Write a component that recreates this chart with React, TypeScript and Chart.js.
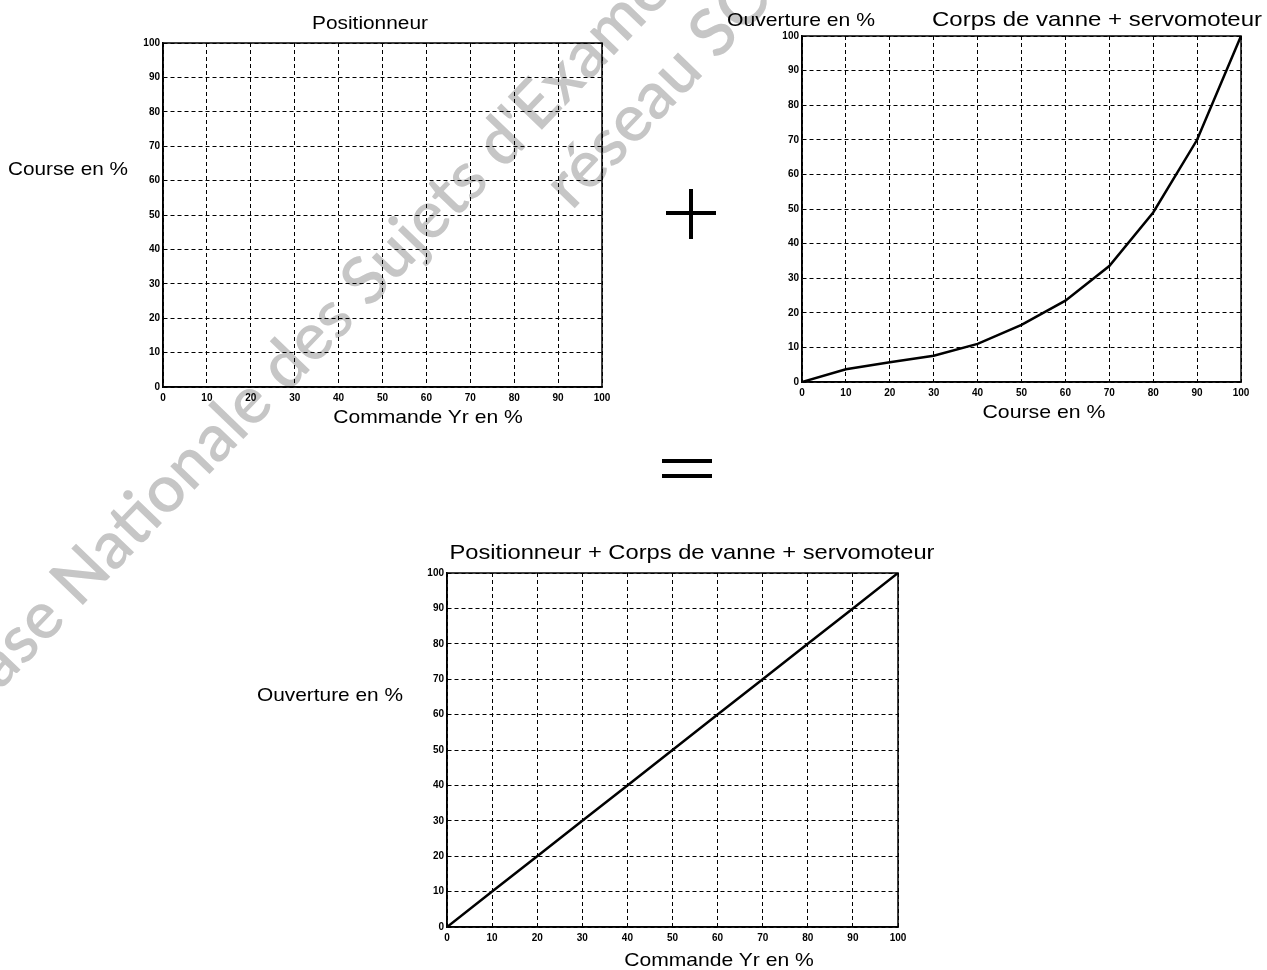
import React, { useEffect, useRef } from "react";
import { Chart, registerables } from "chart.js";

Chart.register(...registerables);

// ---- data ----
const axisTicks = [0, 10, 20, 30, 40, 50, 60, 70, 80, 90, 100];

// Positionneur: empty grid (to be filled in)
const positionneurCommande: number[] = [];
const positionneurCourse: number[] = [];

// Corps de vanne + servomoteur
const vanneCourse = [0, 10, 20, 30, 40, 50, 60, 70, 80, 90, 100];
const vanneOuverture = [0, 3.7, 5.7, 7.6, 11, 16.5, 23.5, 33.5, 49, 70, 100];

// Positionneur + Corps de vanne + servomoteur
const ensembleCommande = [0, 10, 20, 30, 40, 50, 60, 70, 80, 90, 100];
const ensembleOuverture = [0, 10, 20, 30, 40, 50, 60, 70, 80, 90, 100];

const FONT = '"Liberation Sans", Arial, sans-serif';

const framePlugin = {
  id: "frame",
  afterDatasetsDraw(chart: any) {
    const { ctx, chartArea } = chart;
    ctx.save();
    ctx.strokeStyle = "#000";
    ctx.lineWidth = 1.5;
    ctx.setLineDash([]);
    ctx.strokeRect(chartArea.left, chartArea.top, chartArea.right - chartArea.left, chartArea.bottom - chartArea.top);
    ctx.restore();
  },
};

type PlotProps = { left: number; top: number; right: number; bottom: number; xs: number[]; ys: number[] };

function Plot({ left, top, right, bottom, xs, ys }: PlotProps) {
  const ref = useRef<HTMLCanvasElement>(null);
  const padL = 45, padT = 12, padR = 26, padB = 30;
  const W = right - left + padL + padR;
  const H = bottom - top + padT + padB;

  useEffect(() => {
    const tickFont = { family: FONT, size: 10, weight: "bold" as const };
    const setTicks = (axis: any) => {
      axis.ticks = axisTicks.map((v) => ({ value: v }));
    };
    const chart = new Chart(ref.current as HTMLCanvasElement, {
      type: "line",
      data: {
        datasets: xs.length
          ? [
              {
                data: xs.map((x, i) => ({ x, y: ys[i] })),
                borderColor: "#000",
                borderWidth: 2.5,
                pointRadius: 0,
                tension: 0,
                fill: false,
              },
            ]
          : [],
      },
      options: {
        responsive: false,
        animation: false,
        devicePixelRatio: 1,
        layout: { padding: { left: 0, top: padT, right: padR, bottom: 0 } },
        plugins: { legend: { display: false }, tooltip: { enabled: false }, title: { display: false } },
        scales: {
          x: {
            type: "linear",
            min: 0,
            max: 100,
            afterBuildTicks: setTicks,
            afterFit: (s: any) => {
              s.height = padB;
            },
            grid: { color: "#000", lineWidth: 1, drawTicks: false },
            border: { color: "#000", width: 1.5, dash: [4, 3] },
            ticks: { color: "#000", font: tickFont, padding: 5, maxRotation: 0, autoSkip: false },
          },
          y: {
            type: "linear",
            min: 0,
            max: 100,
            afterBuildTicks: setTicks,
            afterFit: (s: any) => {
              s.width = padL;
            },
            grid: { color: "#000", lineWidth: 1, drawTicks: false },
            border: { color: "#000", width: 1.5, dash: [4, 3] },
            ticks: { color: "#000", font: tickFont, padding: 3, autoSkip: false },
          },
        },
      } as any,
      plugins: [framePlugin],
    });
    return () => chart.destroy();
  }, []);

  return (
    <canvas
      ref={ref}
      width={W}
      height={H}
      style={{ position: "absolute", left: left - padL, top: top - padT, width: W, height: H }}
    />
  );
}

const measureCtx = typeof document !== "undefined" ? document.createElement("canvas").getContext("2d") : null;

function Label({ text, cx, cy, size, width }: { text: string; cx: number; cy: number; size: number; width: number }) {
  let sx = 1;
  if (measureCtx) {
    measureCtx.font = `${size}px ${FONT}`;
    const w = measureCtx.measureText(text).width;
    if (w > 0) sx = width / w;
  }
  return (
    <div
      style={{
        position: "absolute",
        left: cx,
        top: cy - size * 0.55,
        fontFamily: FONT,
        fontSize: size,
        lineHeight: `${size}px`,
        whiteSpace: "nowrap",
        color: "#000",
        transformOrigin: "center",
        transform: `translateX(-50%) scaleX(${sx})`,
      }}
    >
      {text}
    </div>
  );
}

function Bar({ x, y, w, h }: { x: number; y: number; w: number; h: number }) {
  return <div style={{ position: "absolute", left: x, top: y, width: w, height: h, background: "#000" }} />;
}

export default function App() {
  const wmStyle: React.CSSProperties = {
    position: "absolute",
    fontFamily: "Lato, 'Open Sans', sans-serif",
    fontSize: 66,
    lineHeight: "66px",
    color: "#c6c6c6",
    whiteSpace: "nowrap",
    transformOrigin: "0 0",
    transform: "rotate(-46deg)",
    fontWeight: 600,
  };
  return (
    <div
      style={{
        position: "absolute",
        left: 0,
        top: 0,
        width: 1267,
        height: 970,
        overflow: "hidden",
        background: "#fff",
      }}
    >
      <div style={{ ...wmStyle, left: -71, top: 681 }}>Base Nationale des Sujets d'Examens</div>
      <div style={{ ...wmStyle, left: 530, top: 171 }}>réseau SCEREN</div>

      <Plot left={163} top={43} right={602} bottom={387} xs={positionneurCommande} ys={positionneurCourse} />
      <Plot left={802} top={36} right={1241} bottom={382} xs={vanneCourse} ys={vanneOuverture} />
      <Plot left={447} top={573} right={898} bottom={927} xs={ensembleCommande} ys={ensembleOuverture} />

      <Label text="Positionneur" cx={370} cy={24} size={18} width={116} />
      <Label text="Course en %" cx={68} cy={170} size={18.5} width={120} />
      <Label text="Commande Yr en %" cx={428} cy={417} size={19} width={190} />

      <Label text="Ouverture en %" cx={801} cy={20} size={19} width={148} />
      <Label text="Corps de vanne + servomoteur" cx={1097} cy={20} size={21} width={330} />
      <Label text="Course en %" cx={1044} cy={412} size={19} width={123} />

      <Label text="Positionneur + Corps de vanne + servomoteur" cx={692} cy={553} size={21} width={485} />
      <Label text="Ouverture en %" cx={330} cy={695} size={19} width={146} />
      <Label text="Commande Yr en %" cx={719} cy={960} size={19} width={190} />

      {/* + sign */}
      <Bar x={689} y={189} w={4} h={50} />
      <Bar x={666} y={211} w={50} h={4} />
      {/* = sign */}
      <Bar x={662} y={459} w={50} h={4} />
      <Bar x={662} y={474} w={50} h={4} />
    </div>
  );
}
